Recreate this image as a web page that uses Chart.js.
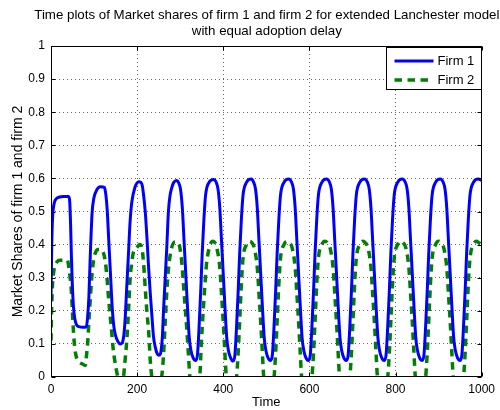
<!DOCTYPE html>
<html>
<head>
<meta charset="utf-8">
<script src="https://cdn.jsdelivr.net/npm/chart.js@4/dist/chart.umd.min.js"></script>
<style>
  html, body { margin: 0; padding: 0; background: #fff; }
  #wrap { width: 500px; height: 410px; }
</style>
</head>
<body>
<div id="wrap"><canvas id="c" width="500" height="410"></canvas></div>
<script>
// Market share of firm 1 over time
const firm1Time = [
  0, 1.5, 3, 5, 8, 12, 18, 30, 41, 43.5, 45.5, 47.5, 49.5, 52, 55, 59, 65, 75, 82,
  85, 88, 90, 92, 95.5, 99, 107, 115, 124, 127.5, 130.5, 134, 138, 142, 146, 150, 155, 161, 166,
  169, 172, 176, 180, 183.5, 187.5, 195, 204, 211, 215, 219, 223, 226.5, 230.5, 234.5, 238, 242, 246, 250, 254,
  257, 259, 261, 265, 269, 272.5, 276, 280.5, 285, 292,
  296, 301, 305, 309, 313, 317, 321, 325, 330, 336, 340, 344, 348, 351, 355, 359, 367, 378,
  383, 388, 392, 396, 400, 404, 408, 412, 417, 423, 427, 431, 435, 438, 442, 446, 454, 465,
  470, 475, 479, 483, 487, 491, 495, 499, 504, 510, 514, 518, 522, 525, 529, 533, 541, 552,
  558, 563, 567, 571, 575, 579, 583, 587, 592, 598, 602, 606, 610, 613, 617, 621, 629, 640,
  646, 651, 655, 659, 663, 667, 671, 675, 680, 686, 690, 694, 698, 701, 705, 709, 717, 728,
  734, 739, 743, 747, 751, 755, 759, 763, 768, 774, 778, 782, 786, 789, 793, 797, 805, 816,
  822, 827, 831, 835, 839, 843, 847, 851, 856, 862, 866, 870, 874, 877, 881, 885, 893, 904,
  910, 915, 919, 923, 927, 931, 935, 939, 944, 950, 954, 958, 962, 965, 969, 973, 981, 992, 1000
];
const firm1Share = [
  0.23, 0.38, 0.46, 0.505, 0.528, 0.538, 0.543, 0.545, 0.545, 0.53, 0.46, 0.36, 0.28, 0.215, 0.178, 0.158, 0.152, 0.15, 0.152,
  0.18, 0.243, 0.32, 0.395, 0.497, 0.537, 0.567, 0.575, 0.573, 0.55, 0.505, 0.416, 0.314, 0.213, 0.152, 0.125, 0.108, 0.10, 0.105,
  0.125, 0.172, 0.274, 0.375, 0.466, 0.527, 0.573, 0.59, 0.583, 0.55, 0.497, 0.416, 0.334, 0.253, 0.182, 0.122, 0.091, 0.072, 0.066, 0.07,
  0.095, 0.13, 0.193, 0.294, 0.395, 0.497, 0.545, 0.572, 0.588, 0.594,
  0.588, 0.565, 0.51, 0.41, 0.31, 0.21, 0.12, 0.08, 0.058, 0.05, 0.066, 0.155, 0.27, 0.37, 0.475, 0.55, 0.588, 0.597,
  0.59, 0.566, 0.51, 0.41, 0.31, 0.21, 0.12, 0.08, 0.058, 0.048, 0.066, 0.155, 0.27, 0.37, 0.475, 0.55, 0.588, 0.598,
  0.59, 0.567, 0.51, 0.41, 0.31, 0.21, 0.12, 0.08, 0.058, 0.05, 0.066, 0.155, 0.27, 0.37, 0.475, 0.55, 0.588, 0.598,
  0.59, 0.567, 0.51, 0.41, 0.31, 0.21, 0.12, 0.08, 0.058, 0.05, 0.066, 0.155, 0.27, 0.37, 0.475, 0.55, 0.588, 0.598,
  0.59, 0.567, 0.51, 0.41, 0.31, 0.21, 0.12, 0.08, 0.058, 0.05, 0.066, 0.155, 0.27, 0.37, 0.475, 0.55, 0.588, 0.598,
  0.59, 0.567, 0.51, 0.41, 0.31, 0.21, 0.12, 0.08, 0.058, 0.05, 0.066, 0.155, 0.27, 0.37, 0.475, 0.55, 0.588, 0.598,
  0.59, 0.567, 0.51, 0.41, 0.31, 0.21, 0.12, 0.08, 0.058, 0.05, 0.066, 0.155, 0.27, 0.37, 0.475, 0.55, 0.588, 0.598,
  0.59, 0.567, 0.51, 0.41, 0.31, 0.21, 0.12, 0.08, 0.058, 0.05, 0.066, 0.155, 0.27, 0.37, 0.475, 0.55, 0.588, 0.598, 0.594
];

// Market share of firm 2 over time (dips below the axis are clipped)
const firm2Time = [
  0, 1, 2.5, 4, 6, 9, 14, 20, 38, 41, 44, 47, 50, 53, 56, 60, 65, 72, 80,
  82, 85, 88, 91, 94, 98, 103, 110, 116, 121, 126, 130, 133, 137, 140, 144, 148, 152, 155, 160, 165,
  168.5, 172, 176, 180, 183.5, 187, 191, 199, 206, 211, 215, 219, 223, 227, 230.5, 234, 240, 251,
  257, 261, 265, 269, 273, 280, 288, 296, 303, 307, 311, 315, 319, 322.5, 328, 340,
  345.5, 349, 353, 357, 361, 368.5, 376, 381,
  385, 392, 396, 400, 403.5, 407, 415, 425, 431, 434.5, 438.5, 442, 446, 454, 461, 467,
  472, 479, 483, 487, 490.5, 494, 502, 512, 518, 521.5, 525.5, 529, 533, 541, 548, 554,
  560, 567, 571, 575, 578.5, 582, 590, 600, 606, 609.5, 613.5, 617, 621, 629, 636, 642,
  648, 655, 659, 663, 666.5, 670, 678, 688, 694, 697.5, 701.5, 705, 709, 717, 724, 730,
  736, 743, 747, 751, 754.5, 758, 766, 776, 782, 785.5, 789.5, 793, 797, 805, 812, 818,
  824, 831, 835, 839, 842.5, 846, 854, 864, 870, 873.5, 877.5, 881, 885, 893, 900, 906,
  912, 919, 923, 927, 930.5, 934, 942, 952, 958, 961.5, 965.5, 969, 973, 981, 988, 994, 1000
];
const firm2Share = [
  0.11, 0.18, 0.25, 0.29, 0.315, 0.335, 0.348, 0.353, 0.353, 0.335, 0.305, 0.265, 0.19, 0.12, 0.08, 0.055, 0.045, 0.04, 0.035,
  0.06, 0.1, 0.17, 0.23, 0.29, 0.345, 0.375, 0.385, 0.385, 0.378, 0.35, 0.30, 0.25, 0.19, 0.15, 0.09, 0.05, 0.02, 0, -0.04, -0.04,
  0, 0.05, 0.111, 0.2, 0.294, 0.34, 0.375, 0.39, 0.40, 0.39, 0.344, 0.264, 0.193, 0.132, 0.05, 0, -0.04, -0.04,
  0, 0.06, 0.16, 0.26, 0.33, 0.39, 0.408, 0.405, 0.355, 0.29, 0.22, 0.15, 0.07, 0, -0.04, -0.04,
  0, 0.1, 0.19, 0.27, 0.34, 0.395, 0.41, 0.405,
  0.39, 0.33, 0.25, 0.165, 0.08, 0, -0.04, -0.04, 0, 0.07, 0.18, 0.28, 0.36, 0.40, 0.41, 0.405,
  0.39, 0.33, 0.25, 0.165, 0.08, 0, -0.04, -0.04, 0, 0.07, 0.18, 0.28, 0.36, 0.40, 0.41, 0.405,
  0.39, 0.33, 0.25, 0.165, 0.08, 0, -0.04, -0.04, 0, 0.07, 0.18, 0.28, 0.36, 0.40, 0.41, 0.405,
  0.39, 0.33, 0.25, 0.165, 0.08, 0, -0.04, -0.04, 0, 0.07, 0.18, 0.28, 0.36, 0.40, 0.41, 0.405,
  0.39, 0.33, 0.25, 0.165, 0.08, 0, -0.04, -0.04, 0, 0.07, 0.18, 0.28, 0.36, 0.40, 0.41, 0.405,
  0.39, 0.33, 0.25, 0.165, 0.08, 0, -0.04, -0.04, 0, 0.07, 0.18, 0.28, 0.36, 0.40, 0.41, 0.405,
  0.39, 0.33, 0.25, 0.165, 0.08, 0, -0.04, -0.04, 0, 0.07, 0.18, 0.28, 0.36, 0.40, 0.41, 0.405, 0.40
];

const seriesNames = ['Firm 1', 'Firm 2'];
const xTickLabels = ['0', '200', '400', '600', '800', '1000'];
const yTickLabels = ['0', '0.1', '0.2', '0.3', '0.4', '0.5', '0.6', '0.7', '0.8', '0.9', '1'];
const titleLines = [
  'Time plots of Market shares of firm 1 and firm 2 for extended Lanchester model',
  'with equal adoption delay'
];
const xAxisLabel = 'Time';
const yAxisLabel = 'Market Shares of firm 1 and firm 2';

const FONT = '"Liberation Sans", Arial, Helvetica, sans-serif';
Chart.defaults.font.family = FONT;
Chart.defaults.color = '#000';

const toPoints = (ts, vs) => ts.map((t, i) => ({ x: t, y: vs[i] }));

// axes box with inward ticks, legend box and two-line title
const decorations = {
  id: 'decorations',
  afterDatasetsDraw(chart) {
    const { ctx, chartArea: a, scales } = chart;
    const xs = scales.x, ys = scales.y;
    const L = Math.round(a.left) + 0.5, R = Math.round(a.right) - 0.5;
    const T = Math.round(a.top) + 0.5, B = Math.round(a.bottom) - 0.5;
    ctx.save();
    ctx.setLineDash([]);
    ctx.strokeStyle = '#000';
    ctx.lineWidth = 1;
    ctx.strokeRect(L, T, R - L, B - T);
    ctx.beginPath();
    xs.ticks.forEach(t => {
      const px = Math.round(xs.getPixelForValue(t.value)) + 0.5;
      ctx.moveTo(px, B); ctx.lineTo(px, B - 4);
      ctx.moveTo(px, T); ctx.lineTo(px, T + 4);
    });
    ys.ticks.forEach(t => {
      const py = Math.round(ys.getPixelForValue(t.value)) + 0.5;
      ctx.moveTo(L, py); ctx.lineTo(L + 4, py);
      ctx.moveTo(R, py); ctx.lineTo(R - 4, py);
    });
    ctx.stroke();

    // legend
    const bx = R - 95, by = T + 1, bw = 95, bh = 42;
    ctx.fillStyle = '#fff';
    ctx.fillRect(bx, by, bw, bh);
    ctx.strokeRect(bx, by, bw, bh);
    ctx.font = '13px ' + FONT;
    ctx.textBaseline = 'middle';
    ctx.textAlign = 'left';
    chart.data.datasets.forEach((ds, i) => {
      const ly = by + 13.5 + i * 19;
      ctx.save();
      ctx.strokeStyle = ds.borderColor;
      ctx.lineWidth = ds.borderWidth;
      ctx.setLineDash(ds.borderDash || []);
      ctx.beginPath();
      ctx.moveTo(bx + 8, ly);
      ctx.lineTo(bx + 47, ly);
      ctx.stroke();
      ctx.restore();
      ctx.fillStyle = '#000';
      ctx.fillText(ds.label, bx + 51, ly + 0.5);
    });

    // title
    ctx.font = '13.3px ' + FONT;
    ctx.textAlign = 'center';
    ctx.textBaseline = 'middle';
    const cx = (a.left + a.right) / 2 + 0.5;
    titleLines.forEach((line, i) => ctx.fillText(line, cx, 15 + i * 16.5));
    ctx.restore();
  }
};

new Chart(document.getElementById('c'), {
  type: 'line',
  data: {
    datasets: [
      {
        label: seriesNames[0],
        data: toPoints(firm1Time, firm1Share),
        borderColor: '#0000ff',
        borderWidth: 3,
        pointRadius: 0,
        cubicInterpolationMode: 'monotone',
        fill: false,
        clip: 0
      },
      {
        label: seriesNames[1],
        data: toPoints(firm2Time, firm2Share),
        borderColor: '#008000',
        borderWidth: 3.5,
        borderDash: [7.5, 5.5],
        pointRadius: 0,
        cubicInterpolationMode: 'monotone',
        fill: false,
        clip: 0
      }
    ]
  },
  options: {
    responsive: false,
    devicePixelRatio: 1,
    animation: false,
    layout: { padding: { top: 46, right: 14, left: 0, bottom: 0 } },
    plugins: {
      legend: { display: false },
      title: { display: false },
      tooltip: { enabled: false }
    },
    scales: {
      x: {
        type: 'linear',
        min: 0,
        max: 1000,
        afterFit: s => { s.height = 33; },
        ticks: {
          stepSize: 200,
          padding: 5,
          maxRotation: 0,
          font: { size: 12 },
          color: '#000',
          callback: (v, i) => xTickLabels[i]
        },
        grid: {
          drawTicks: false,
          lineWidth: 1,
          color: c => (c.tick && (c.tick.value === 0 || c.tick.value === 1000)) ? 'rgba(0,0,0,0)' : 'rgba(0,0,0,0.6)'
        },
        border: { display: false, dash: [1, 3] },
        title: { display: true, text: xAxisLabel, font: { size: 13 }, padding: { top: 0, bottom: 0 }, color: '#000' }
      },
      y: {
        min: 0,
        max: 1,
        afterFit: s => { s.width = 51; },
        ticks: {
          stepSize: 0.1,
          padding: 6,
          font: { size: 12 },
          color: '#000',
          callback: (v, i) => yTickLabels[i]
        },
        grid: {
          drawTicks: false,
          lineWidth: 1,
          color: c => (c.tick && (c.tick.value <= 0.001 || c.tick.value >= 0.999)) ? 'rgba(0,0,0,0)' : 'rgba(0,0,0,0.6)'
        },
        border: { display: false, dash: [1, 3] },
        title: { display: true, text: yAxisLabel, font: { size: 14 }, padding: { top: 10, bottom: 0 }, color: '#000' }
      }
    }
  },
  plugins: [decorations]
});
</script>
</body>
</html>
